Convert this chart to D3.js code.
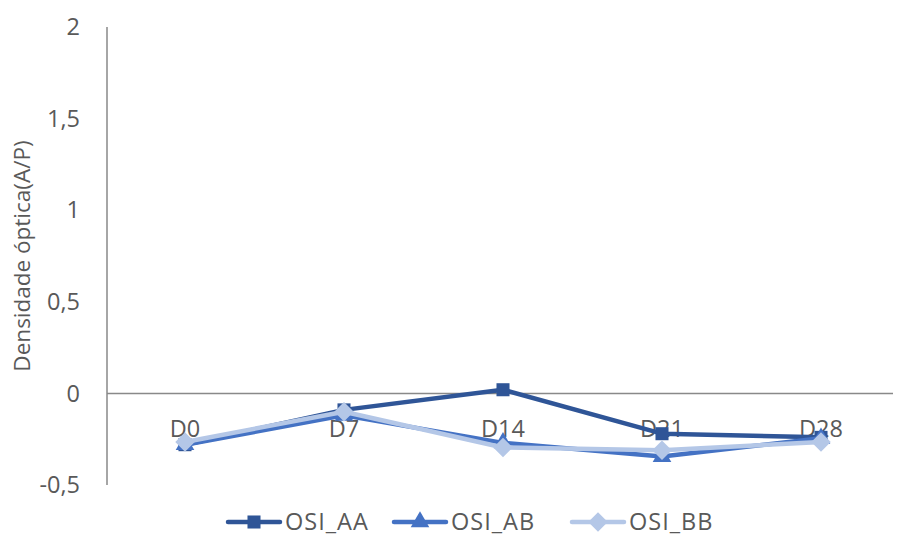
<!DOCTYPE html>
<html>
<head>
<meta charset="utf-8">
<script src="https://cdn.jsdelivr.net/npm/d3@7"></script>
<style>
  html, body { margin: 0; padding: 0; background: #fff; }
  svg { display: block; font-family: "Open Sans", "Noto Sans", sans-serif; }
</style>
</head>
<body>
<svg id="chart" width="897" height="538"></svg>
<script>
// Sampling days
const categories = ["D0", "D7", "D14", "D21", "D28"];

// Optical density (A/P) per group
const osiAA = [-0.28, -0.09, 0.02, -0.22, -0.24];
const osiAB = [-0.28, -0.12, -0.27, -0.345, -0.245];
const osiBB = [-0.265, -0.10, -0.295, -0.31, -0.265];

const seriesNames = ["OSI_AA", "OSI_AB", "OSI_BB"];
const yTicks = [-0.5, 0, 0.5, 1, 1.5, 2];

// Square diamond: a square turned by 45 degrees
const squareDiamond = {
  draw(context, size) {
    const r = Math.sqrt(size / 2);
    context.moveTo(0, -r);
    context.lineTo(r, 0);
    context.lineTo(0, r);
    context.lineTo(-r, 0);
    context.closePath();
  }
};

const series = [
  { name: seriesNames[0], values: osiAA, color: "#2F5597", symbol: d3.symbolSquare, size: 170 },
  { name: seriesNames[1], values: osiAB, color: "#4472C4", symbol: d3.symbolTriangle, size: 150 },
  { name: seriesNames[2], values: osiBB, color: "#B4C7E7", symbol: squareDiamond, size: 190 }
];

const svg = d3.select("#chart");
const axisColor = "#898989";
const textColor = "#595959";
const fontSize = 23.5;

const x = d3.scalePoint().domain(categories).range([185, 821]);
const y = d3.scaleLinear().domain([-0.5, 2]).range([485, 27]);

// Vertical value axis line
svg.append("line")
  .attr("x1", 107).attr("x2", 107)
  .attr("y1", y(2)).attr("y2", y(-0.5))
  .attr("stroke", axisColor).attr("stroke-width", 1.5);

// Value tick labels (comma decimal, hyphen minus)
svg.append("g").selectAll("text").data(yTicks).join("text")
  .attr("x", 80).attr("y", d => y(d))
  .attr("dy", "0.35em")
  .attr("text-anchor", "end")
  .attr("fill", textColor)
  .attr("font-size", fontSize)
  .text(d => String(d).replace(".", ","));

// Category axis at zero
svg.append("line")
  .attr("x1", 107).attr("x2", 893)
  .attr("y1", y(0)).attr("y2", y(0))
  .attr("stroke", axisColor).attr("stroke-width", 1.5);

// Category labels sit just below the zero line
svg.append("g").selectAll("text").data(categories).join("text")
  .attr("x", d => x(d)).attr("y", y(0) + 44)
  .attr("text-anchor", "middle")
  .attr("fill", textColor)
  .attr("font-size", fontSize)
  .text(d => d);

// Axis title
svg.append("text")
  .attr("transform", `translate(30, ${(y(2) + y(-0.5)) / 2}) rotate(-90)`)
  .attr("text-anchor", "middle")
  .attr("fill", textColor)
  .attr("font-size", 22.5)
  .text("Densidade óptica(A/P)");

// Lines and markers
const line = d3.line().x((d, i) => x(categories[i])).y(d => y(d));
series.forEach(s => {
  const g = svg.append("g");
  g.append("path")
    .attr("d", line(s.values))
    .attr("fill", "none")
    .attr("stroke", s.color)
    .attr("stroke-width", 4.5)
    .attr("stroke-linejoin", "round")
    .attr("stroke-linecap", "round");
  g.selectAll("path.m").data(s.values).join("path")
    .attr("class", "m")
    .attr("transform", (d, i) => `translate(${x(categories[i])},${y(d)})`)
    .attr("d", d3.symbol().type(s.symbol).size(s.size))
    .attr("fill", s.color);
});

// Legend
const legendX = [228, 394, 572];
const legendY = 522;
series.forEach((s, i) => {
  const g = svg.append("g").attr("transform", `translate(${legendX[i]},${legendY})`);
  g.append("line")
    .attr("x1", 0).attr("x2", 52)
    .attr("stroke", s.color).attr("stroke-width", 4.5)
    .attr("stroke-linecap", "round");
  g.append("path")
    .attr("transform", "translate(26,0)")
    .attr("d", d3.symbol().type(s.symbol).size(s.size))
    .attr("fill", s.color);
  g.append("text")
    .attr("x", 57).attr("dy", "0.35em")
    .attr("fill", textColor)
    .attr("font-size", fontSize)
    .attr("letter-spacing", 1)
    .text(s.name);
});
</script>
</body>
</html>
